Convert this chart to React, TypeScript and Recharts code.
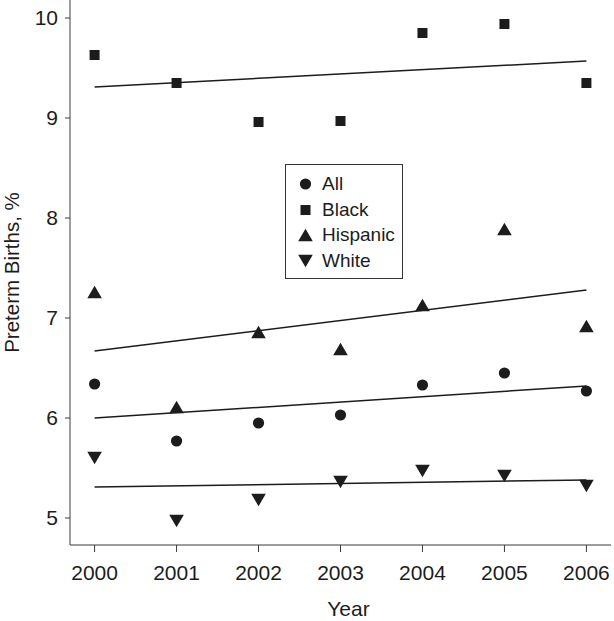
import React from "react";
import {
  ComposedChart,
  Scatter,
  Line,
  XAxis,
  YAxis,
  Legend,
} from "recharts";

// values
const years = [2000, 2001, 2002, 2003, 2004, 2005, 2006];
const allValues = [6.34, 5.77, 5.95, 6.03, 6.33, 6.45, 6.27];
const blackValues = [9.63, 9.35, 8.96, 8.97, 9.85, 9.94, 9.35];
const hispanicValues = [7.26, 6.11, 6.86, 6.69, 7.13, 7.89, 6.92];
const whiteValues = [5.6, 4.97, 5.18, 5.36, 5.47, 5.42, 5.32];

// fitted trend lines, endpoints only
const trendYears = [2000, 2006];
const allTrend = [6.0, 6.32];
const blackTrend = [9.31, 9.57];
const hispanicTrend = [6.67, 7.28];
const whiteTrend = [5.31, 5.38];

const yTicks = [5, 6, 7, 8, 9, 10];

const INK = "#1c1c1c";
const FONT = "'Liberation Sans', Arial, sans-serif";

type MarkerKind = "circle" | "square" | "up" | "down";

const toPoints = (vals: number[]) => years.map((year, i) => ({ year, v: vals[i] }));
const toTrend = (vals: number[]) => trendYears.map((year, i) => ({ year, v: vals[i] }));

const series: { name: string; kind: MarkerKind; points: number[]; trend: number[] }[] = [
  { name: "All", kind: "circle", points: allValues, trend: allTrend },
  { name: "Black", kind: "square", points: blackValues, trend: blackTrend },
  { name: "Hispanic", kind: "up", points: hispanicValues, trend: hispanicTrend },
  { name: "White", kind: "down", points: whiteValues, trend: whiteTrend },
];

function markerPath(kind: MarkerKind, cx: number, cy: number) {
  if (kind === "circle") return <circle cx={cx} cy={cy} r={5.6} fill={INK} />;
  if (kind === "square") return <rect x={cx - 5} y={cy - 5} width={10} height={10} fill={INK} />;
  const w = 7.3, h = 6.2;
  const d =
    kind === "up"
      ? `M${cx - w},${cy + h}L${cx + w},${cy + h}L${cx},${cy - h}Z`
      : `M${cx - w},${cy - h}L${cx + w},${cy - h}L${cx},${cy + h}Z`;
  return <path d={d} fill={INK} />;
}

const makeShape = (kind: MarkerKind) => (props: any) => {
  const { cx, cy } = props;
  if (cx == null || cy == null) return <g />;
  return markerPath(kind, cx, cy);
};

function LegendBox() {
  return (
    <div
      style={{
        width: 118,
        height: 115,
        border: "1px solid #333",
        background: "#fff",
        fontFamily: FONT,
        fontSize: 19,
        color: INK,
        paddingTop: 6,
        boxSizing: "border-box",
        textAlign: "left",
      }}
    >
      {series.map((s) => (
        <div key={s.name} style={{ display: "flex", alignItems: "center", height: 25.7 }}>
          <svg width={36} height={20} style={{ flexShrink: 0 }}>
            {markerPath(s.kind, 19.5, 10)}
          </svg>
          <span>{s.name}</span>
        </div>
      ))}
    </div>
  );
}

export default function App() {
  return (
    <div style={{ position: "absolute", left: 0, top: 0, background: "#fff" }}>
      <ComposedChart
        width={614}
        height={621}
        margin={{ top: 0, right: 3, bottom: 0, left: 0 }}
      >
        <XAxis
          dataKey="year"
          type="number"
          domain={[1999.7, 2006.3]}
          ticks={years}
          allowDataOverflow
          height={76}
          tickSize={7}
          tickMargin={13}
          stroke="#3a3a3a"
          tick={{ fill: INK, fontSize: 21, fontFamily: FONT }}
          label={{
            value: "Year",
            position: "insideBottom",
            offset: 5,
            dx: 8,
            fill: INK,
            fontSize: 21,
            fontFamily: FONT,
          }}
        />
        <YAxis
          type="number"
          domain={[4.73, 10.18]}
          ticks={yTicks}
          allowDataOverflow
          width={70}
          tickSize={5}
          tickMargin={7}
          stroke="#3a3a3a"
          tick={{ fill: INK, fontSize: 21, fontFamily: FONT }}
          label={{
            value: "Preterm Births, %",
            angle: -90,
            position: "insideLeft",
            offset: 12,
            fill: INK,
            fontSize: 20.5,
            fontFamily: FONT,
            style: { textAnchor: "middle" },
          }}
        />
        <Legend
          layout="vertical"
          verticalAlign="middle"
          align="center"
          wrapperStyle={{ left: 285, top: 164, width: 118 }}
          content={() => <LegendBox />}
        />
        {series.map((s) => (
          <Line
            key={s.name + "-trend"}
            data={toTrend(s.trend)}
            dataKey="v"
            type="linear"
            stroke={INK}
            strokeWidth={1.5}
            dot={false}
            activeDot={false}
            legendType="none"
            isAnimationActive={false}
          />
        ))}
        {series.map((s) => (
          <Scatter
            key={s.name}
            name={s.name}
            data={toPoints(s.points)}
            dataKey="v"
            shape={makeShape(s.kind)}
            isAnimationActive={false}
          />
        ))}
      </ComposedChart>
    </div>
  );
}
